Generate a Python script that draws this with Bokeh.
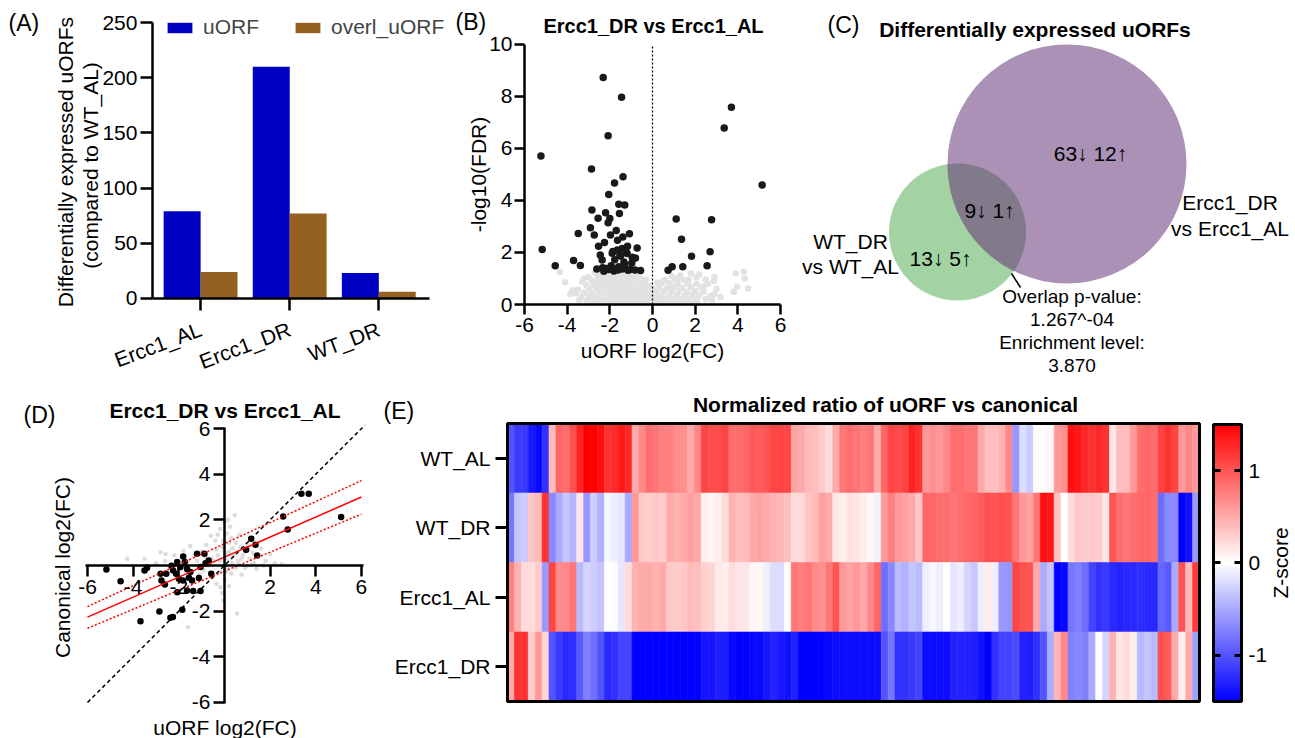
import numpy as np
from bokeh.plotting import figure
from bokeh.models import (Range1d, FixedTicker, Label, Legend, LegendItem,
                          LinearAxis, LinearColorMapper, ColumnDataSource)
from bokeh.transform import dodge
from bokeh.layouts import row, column
from bokeh.embed import file_html
from bokeh.resources import INLINE

FONT = "Liberation Sans"

# ---------------- data ----------------
# (A)
samples = ["Ercc1_AL", "Ercc1_DR", "WT_DR"]
uorf_counts = [79, 210, 23]
overl_counts = [24, 77, 6]
a_yticks = [0, 50, 100, 150, 200, 250]

# (B) volcano: significant (black) and non-significant (grey)
b_sig_x = [-2.31, -1.45, -2.08, -5.23, -2.86, -1.38, -1.78, -2.05, -1.58, -1.30, -2.84, -2.20, -1.55,
           -2.55, -2.00, -2.08, -2.91, -3.48, -2.73, -1.70, -1.97, -1.39, -1.08, -1.64, -2.25, -2.53,
           -1.17, -5.17, -1.42, -0.72, -1.86, -1.50, -1.19, -3.70, -2.36, -1.77, -0.80, -4.56, -3.38,
           -1.94, -1.30, -0.97, -2.61, -2.34, -2.06, -1.70, -1.42, -1.03, -0.56, -2.28, -1.81, -1.34,
           -1.58, -1.89, -1.53, -0.95, -1.34, -2.20, -1.85, -1.62, -1.15, -0.82, -2.45, -1.65, -1.25,
           1.11, 3.36, 3.70, 5.14, 2.77, 1.36, 2.70, 1.83, 0.73, 0.92, 1.42, 2.56]
b_sig_y = [8.73, 7.97, 6.49, 5.71, 5.21, 4.91, 4.67, 4.23, 3.86, 3.83, 3.63, 3.53, 3.50,
           3.32, 3.31, 3.14, 2.95, 2.73, 2.67, 2.85, 2.67, 2.60, 2.72, 2.47, 2.38, 2.24,
           2.24, 2.12, 2.15, 2.17, 2.04, 1.87, 1.96, 1.69, 1.71, 1.72, 1.79, 1.49, 1.50,
           1.49, 1.54, 1.60, 1.37, 1.41, 1.35, 1.37, 1.37, 1.35, 1.31, 1.28, 1.29, 1.42,
           1.45, 1.97, 1.88, 1.82, 1.63, 1.38, 1.36, 1.33, 1.32, 1.33, 1.90, 2.10, 2.05,
           3.29, 6.79, 7.59, 4.60, 3.26, 2.51, 2.03, 1.86, 1.32, 1.45, 1.45, 1.49]
b_ns_x = [-2.7, -2.4, -2.1, -1.85, -1.55, -1.25, -0.95, -0.7,
          -3.0, -2.55, -2.25, -1.95, -1.7, -1.4, -1.1, -0.85, -0.55,
          -3.3, -2.85, -2.6, -2.35, -2.05, -1.8, -1.55, -1.3, -1.0, -0.75, -0.45,
          -3.1, -2.75, -2.45, -2.2, -1.9, -1.65, -1.4, -1.15, -0.9, -0.6, -0.35,
          -3.5, -2.95, -2.6, -2.3, -2.0, -1.75, -1.5, -1.25, -1.0, -0.7, -0.45, -0.25,
          -3.6, -3.2, -2.85, -2.5, -2.15, -1.9, -1.6, -1.35, -1.1, -0.85, -0.55, -0.3,
          -3.35, -3.0, -2.7, -2.4, -2.05, -1.75, -1.5, -1.2, -0.95, -0.65, -0.4, -0.2,
          -3.1, -2.8, -2.5, -2.2, -1.9, -1.6, -1.3, -1.05, -0.8, -0.5, -0.25,
          -2.6, -2.0, -1.4, -0.9, -0.4, -0.12,
          -4.35, -4.1, -3.85,
          -2.55, -2.25, -1.7, -1.1, -0.8, -3.2, -0.3, -0.15, -3.75, -3.45, -0.08, -0.05,
          -2.9, -2.3, -1.7, -1.15, -0.65,
          0.9, 1.3, 1.8, 2.2, 2.9,
          0.6, 1.05, 1.5, 2.5,
          0.4, 0.8, 1.2, 1.65, 2.05, 2.6,
          0.3, 0.7, 1.0, 1.4, 1.8, 2.3,
          0.2, 0.55, 0.9, 1.25, 1.6, 2.0, 2.4,
          0.15, 0.45, 0.8, 1.15, 1.5, 1.85, 2.2, 2.7,
          0.1, 0.35, 0.65, 1.0, 1.35, 1.7, 2.05, 2.8,
          0.2, 0.6, 1.1, 1.6, 2.1,
          0.12, 0.08, 0.5, 1.2, 1.7, 2.05, 0.25, 2.4, 2.5, 2.9, 3.0, 0.4, 0.9, 1.35, 1.85,
          3.9, 4.28, 4.33, 3.97, 4.48, 3.81, 3.19, 2.88]
b_ns_y = [1.22, 1.18, 1.24, 1.2, 1.23, 1.19, 1.21, 1.17,
          1.06, 1.04, 1.08, 1.03, 1.07, 1.05, 1.02, 1.06, 1.0,
          0.88, 0.92, 0.89, 0.93, 0.9, 0.87, 0.91, 0.9, 0.88, 0.92, 0.86,
          0.74, 0.77, 0.73, 0.76, 0.74, 0.78, 0.72, 0.76, 0.74, 0.73, 0.7,
          0.58, 0.61, 0.6, 0.57, 0.62, 0.59, 0.6, 0.58, 0.61, 0.59, 0.57, 0.55,
          0.44, 0.46, 0.43, 0.47, 0.45, 0.42, 0.46, 0.44, 0.47, 0.43, 0.45, 0.41,
          0.29, 0.31, 0.28, 0.32, 0.3, 0.27, 0.31, 0.29, 0.32, 0.28, 0.3, 0.27,
          0.14, 0.16, 0.13, 0.15, 0.17, 0.14, 0.16, 0.13, 0.15, 0.14, 0.12,
          0.08, 0.09, 0.08, 0.09, 0.08, 0.08,
          1.25, 0.86, 0.4,
          1.28, 1.27, 1.28, 1.27, 1.26, 1.0, 0.95, 0.7, 0.55, 0.15, 0.45, 0.2,
          0.07, 0.06, 0.07, 0.08, 0.07,
          1.1, 1.12, 1.19, 1.15, 1.06,
          0.95, 0.97, 0.93, 0.96,
          0.8, 0.82, 0.78, 0.81, 0.8, 0.8,
          0.66, 0.64, 0.67, 0.63, 0.66, 0.65,
          0.5, 0.52, 0.49, 0.51, 0.48, 0.52, 0.5,
          0.35, 0.37, 0.34, 0.36, 0.33, 0.37, 0.35, 0.32,
          0.2, 0.22, 0.19, 0.21, 0.2, 0.18, 0.22, 0.17,
          0.09, 0.08, 0.09, 0.08, 0.09,
          0.6, 0.45, 0.9, 1.0, 0.95, 1.05, 0.85, 0.7, 0.2, 0.4, 0.6, 0.07, 0.07, 0.08, 0.07,
          1.19, 1.26, 1.0, 0.68, 0.62, 0.49, 0.29, 0.9]
b_xticks = [-6, -4, -2, 0, 2, 4, 6]
b_yticks = [0, 2, 4, 6, 8, 10]

# (C) Venn counts (down, up)
venn_ercc1_only = (63, 12)
venn_overlap = (9, 1)
venn_wt_only = (13, 5)
venn_sets = ["Ercc1_DR", "vs Ercc1_AL", "WT_DR", "vs WT_AL"]
venn_stats = ["Overlap p-value:", "1.267^-04", "Enrichment level:", "3.870"]

# (D) uORF vs canonical log2FC
d_sig_x = [-5.17, -4.55, -3.68, -3.5, -3.39, -2.85, -2.76, -2.61, -2.80, -2.55, -2.37, -2.26, -1.85,
           -2.32, -2.25, -2.12, -2.07, -1.81, -1.74, -1.93, -2.0, -1.82, -1.56, -1.42, -2.07, -1.64,
           -1.37, -1.05, -1.2, -0.88, -0.83, -0.69, -1.05, -0.58, -1.12, -1.49, -1.64,
           0.95, 1.17, 1.36, 1.43, 2.57, 2.77, 3.37, 3.69, 5.11]
d_sig_y = [-0.18, -0.69, -2.44, -0.22, -0.1, -2.01, -0.66, -0.83, -0.36, -0.36, -2.29, -2.26, -1.94,
           -0.01, -0.22, -0.36, 0.15, 0.39, 0.15, -0.07, -0.58, -0.66, -0.54, -0.66, -1.17, -1.09,
           -1.12, -1.12, 0.51, 0.51, 0.10, 0.22, -0.07, -0.36, -0.55, -0.29, -0.15,
           0.69, 1.17, 0.91, 0.44, 2.15, 1.58, 3.14, 3.14, 2.12]
d_ns_x = [-3.0, -2.8, -2.58, -2.4, -2.2, -2.0, -1.8, -1.7, -1.5, -1.4, -1.2, -1.1, -1.0, -0.9, -0.8,
          -0.7, -0.6, -0.55, -0.5, -0.4, -0.3, -0.2, -0.2, -0.1, -0.1, 0.0, 0.0, 0.05, 0.1, 0.15,
          0.2, 0.2, 0.3, 0.3, 0.35, 0.4, 0.45, 0.5, 0.5, 0.6, 0.7, 0.75, 0.8, 0.9, 1.0, 1.05, 1.1,
          1.25, 1.3, 1.5, 1.6, 1.8, 2.0, -0.18, -0.04, 0.55, -1.6, -4.26, -3.5, 0.25, -0.35, 0.65,
          0.6, 0.9, 1.2, 1.4, 1.7, 2.2, 2.5, -0.2, 0.1, 0.2, -0.3, 0.05, -0.5, 0.35, 0.55, 0.75,
          -0.8, -1.3, -1.6, -0.05, 0.15, -2.6, -0.35]
d_ns_y = [0.1, 0.58, 0.5, -0.1, 0.45, 0.1, 0.65, -0.3, 0.85, -0.6, 0.2, -0.4, 0.6, -0.2, 0.9,
          0.0, 1.3, 0.3, 0.2, 1.1, 0.45, 1.6, -0.3, 0.8, -1.2, 1.9, -0.6, 0.3, 1.4, -0.15,
          0.6, -0.9, 1.2, -0.35, 0.1, 0.4, 2.2, 1.0, -0.1, 0.2, 0.8, -0.4, 0.45, 0.6, 0.0, 0.9, 0.3,
          0.55, 0.1, 0.4, 0.75, 0.2, 0.5, -0.95, -1.53, -2.1, -2.7, 0.3, 0.3, 1.7, 0.7, 1.35,
          0.05, -0.1, 0.05, -0.15, 0.0, 0.1, 0.05, 0.2, 0.55, 1.0, 1.35, -0.3, -0.5, 0.75, 0.55, 0.3,
          0.35, 0.45, 0.2, 1.1, 2.0, 0.2, -0.8]
d_fit_x = [-6, 6]
d_fit_y = [-2.26, 3.0]
d_ci_upper = [-1.8, 3.72]
d_ci_lower = [-2.75, 2.25]
d_identity = [-6, 6.15]
d_ticks = [-6, -4, -2, 2, 4, 6]

# (E) heatmap z-scores, 100 uORFs x 4 conditions
conditions = ["WT_AL", "WT_DR", "Ercc1_AL", "Ercc1_DR"]
z_wt_al = [-1.0, -1.15, -1.15, -1.35, -1.45, -1.2, 0.4, 0.9, 0.85, 1.03, 1.3, 1.5, 1.5, 1.4, 1.2, 1.25,
           1.35, 1.26, 0.5, 0.7, 0.85, 0.8, 0.74, 0.74, 0.68, 0.65, 0.5, 0.7, 1.1, 1.05, 1.05, 1.1, 0.85,
           0.85, 0.9, 0.97, 0.95, 1.0, 1.09, 1.1, 1.09, 0.55, 0.5, 0.4, 0.38, 0.3, 0.2, 0.5, 0.8, 0.85,
           0.8, 0.75, 0.8, 0.5, 0.9, 1.09, 1.05, 1.1, 1.3, 1.2, 0.6, 0.65, 0.6, 0.7, 0.85, 0.85, 0.8,
           0.8, 0.5, 0.38, 0.38, 0.45, 0.68, -0.6, -0.2, -0.3, 0.02, 0.02, 0.05, 0.6, 0.65, 1.4, 1.35,
           1.26, 1.2, 1.26, 1.2, 0.15, 0.38, 0.4, 0.6, 0.85, 0.9, 0.85, 1.09, 1.2, 1.1, 0.6, 0.7, 0.6]
z_wt_dr = [-0.8, -0.35, -0.3, 0.35, 0.4, 1.2, -0.7, -0.5, -0.35, -0.44, 0.15, -0.6, -0.3, -0.45, -0.05,
           -0.1, -0.15, -0.5, 0.6, 0.32, 0.3, 0.32, 0.3, 0.5, 0.45, 0.5, 0.56, 0.5, 0.1, 0.05, 0.1, 0.2,
           0.44, 0.38, 0.4, 0.5, 0.55, 0.5, 0.45, 0.42, 0.38, 0.2, 0.22, 0.35, 0.4, 0.56, 0.5, 0.15, 0.1,
           0.17, 0.15, 0.1, 0.05, -0.08, 0.6, 0.75, 0.6, 0.56, 0.5, 0.32, 0.9, 0.9, 0.85, 0.85, 0.8,
           0.85, 0.9, 0.91, 0.95, 1.03, 1.0, 1.05, 1.0, 0.8, 0.6, 0.55, 0.8, 1.4, 1.35, 0.35, 0.0, 0.2,
           0.32, 0.3, 0.32, 0.3, 0.15, 1.0, 0.85, 0.8, 0.85, 0.9, 0.9, 0.85, -0.85, -0.68, -0.7, -1.5,
           -1.4, -0.6]
z_ercc1_al = [0.73, 0.45, 0.2, 0.2, 0.3, -0.6, 1.1, 0.68, 0.7, 0.8, -0.4, -0.25, -0.3, -0.35, 0.0,
              -0.02, -0.15, 0.2, 0.45, 0.5, 0.5, 0.45, 0.5, 0.32, 0.3, 0.32, 0.4, 0.38, 0.27, 0.25, 0.12,
              0.1, 0.2, 0.15, 0.15, 0.05, 0.05, -0.1, -0.2, -0.2, 0.0, 0.8, 0.75, 0.8, 0.68, 0.65, 0.8,
              1.0, 0.6, 0.55, 0.6, 0.5, 0.7, 0.9, -0.85, -0.7, -0.4, -0.45, -0.35, -0.4, -0.1, -0.05,
              -0.1, 0.0, -0.15, -0.1, -0.25, -0.32, -0.1, 0.1, -0.1, -0.6, -0.62, 1.1, 1.03, 1.0, 0.5,
              -0.5, -0.35, -1.5, -1.45, -0.8, -0.75, -0.85, -1.1, -1.2, -1.15, -1.25, -1.3, -1.26,
              -1.26, -1.22, -1.26, -1.26, -0.9, -0.97, -0.5, 1.0, 0.4, 1.15]
z_ercc1_dr = [0.5, 1.2, 1.2, 0.3, 0.6, 0.25, -1.0, -1.15, -1.26, -1.22, -0.97, -0.75, -0.85, -1.0,
              -1.26, -1.2, -1.1, -1.1, -1.5, -1.5, -1.5, -1.5, -1.5, -1.5, -1.5, -1.5, -1.5, -1.5,
              -1.38, -1.38, -1.32, -1.32, -1.45, -1.5, -1.5, -1.45, -1.45, -1.35, -1.3, -1.35, -1.4,
              -1.3, -1.5, -1.5, -1.5, -1.5, -1.45, -1.42, -1.42, -1.42, -1.42, -1.42, -1.42, -1.42,
              -1.0, -0.8, -1.2, -1.2, -1.15, -1.1, -1.42, -1.42, -1.42, -1.42, -1.3, -1.3, -1.3,
              -1.32, -1.4, -1.5, -1.2, -1.1, -1.1, -1.05, -1.3, -1.32, -1.2, -1.0, -0.5, 0.44, 0.7,
              -0.73, -0.7, -0.75, -0.5, 0.0, -0.25, 0.44, 0.15, 0.2, 0.1, -0.4, -0.35, -0.4, 1.03,
              0.95, 0.5, 0.1, 0.5, -0.56]
z_ticks = [-1, 0, 1]
z_low, z_high = -1.5, 1.5

# ---------------- styles ----------------
BLUE = "#0000C2"
BROWN = "#956120"
PURPLE = "#AA91B5"
GREEN = "#A3D2A3"
OVERLAP = "#807A8A"
GREY = "#E2E2E2"


def make_palette():
    pal = []
    for i in range(256):
        t = i / 255.0
        if t < 0.5:
            f = t / 0.5
            r, g, b = int(round(255 * f)), int(round(255 * f)), 255
        else:
            f = (t - 0.5) / 0.5
            r, g, b = 255, int(round(255 * (1 - f))), int(round(255 * (1 - f)))
        pal.append("#%02X%02X%02X" % (r, g, b))
    return pal


PALETTE = make_palette()


def canvas_fig(w, h, xr, yr):
    p = figure(width=w, height=h, x_range=Range1d(*xr), y_range=Range1d(*yr),
               x_axis_type=None, y_axis_type=None, output_backend="svg", toolbar_location=None,
               min_border=0, min_border_left=0, min_border_right=0, min_border_top=0,
               min_border_bottom=0)
    p.outline_line_color = None
    p.background_fill_color = "white"
    p.border_fill_color = "white"
    return p


def add_axis(p, side, loc, bounds, ticks, labels=None, tick_out=11, tick_in=0, size="21px",
             standoff=3, width=2.5, orientation=None):
    ax = LinearAxis(fixed_location=loc, bounds=bounds, ticker=FixedTicker(ticks=ticks))
    ax.axis_line_width = width
    ax.axis_line_color = "black"
    ax.major_tick_line_width = width
    ax.major_tick_line_color = "black"
    ax.minor_tick_line_color = None
    ax.major_tick_in = tick_in
    ax.major_tick_out = tick_out
    ax.major_label_text_font = FONT
    ax.major_label_text_font_size = size
    ax.major_label_text_color = "black"
    ax.major_label_standoff = standoff
    if labels is None:
        labels = [str(t) for t in ticks]
    ax.major_label_overrides = {t: s for t, s in zip(ticks, labels)}
    if orientation is not None:
        ax.major_label_orientation = orientation
    p.add_layout(ax, side)
    return ax


def lab(p, x, y, text, size="21px", bold=False, align="left", angle=0.0):
    p.add_layout(Label(x=x, y=y, text=text, text_font=FONT, text_font_size=size,
                       text_font_style="bold" if bold else "normal", text_align=align,
                       text_baseline="middle", angle=angle, text_color="black"))


# ---------------- (A) ----------------
pA = canvas_fig(450, 380, (-2.246, 2.805), (-74.28, 269.93))
srcA = ColumnDataSource(dict(idx=list(range(len(samples))), uorf=uorf_counts, overl=overl_counts))
r1 = pA.vbar(x=dodge("idx", -0.207, range=pA.x_range), top="uorf", width=0.415, source=srcA,
             fill_color=BLUE, line_color=None)
r2 = pA.vbar(x=dodge("idx", 0.207, range=pA.x_range), top="overl", width=0.415, source=srcA,
             fill_color=BROWN, line_color=None)
add_axis(pA, "below", 0, (-0.54, 2.57), list(range(len(samples))), labels=samples,
         tick_out=12, standoff=18, orientation=0.36)
add_axis(pA, "left", -0.54, (0, 250), a_yticks, tick_out=12, standoff=3)
legA = Legend(items=[LegendItem(label="uORF", renderers=[r1]),
                     LegendItem(label="overl_uORF", renderers=[r2])],
              orientation="horizontal", location=(164, 341), glyph_width=31, glyph_height=13,
              label_standoff=8, spacing=33, padding=0, margin=0, border_line_color=None,
              background_fill_alpha=0, label_text_font=FONT, label_text_font_size="21px",
              label_height=13)
pA.add_layout(legA)
lab(pA, -2.156, 250, "(A)", size="23px")
lab(pA, -1.516, 123.6, "Differentially expressed uORFs", align="center", angle=np.pi / 2)
lab(pA, -1.236, 120.5, "(compared to WT_AL)", align="center", angle=np.pi / 2)

# ---------------- (B) ----------------
pB = canvas_fig(350, 380, (-9.469, 6.938), (-2.923, 11.692))
pB.scatter(b_ns_x, b_ns_y, size=6.5, fill_color=GREY, line_color=None)
pB.scatter(b_sig_x, b_sig_y, size=7.5, fill_color="#1A1A1A", line_color=None)
pB.line([0, 0], [b_yticks[0], b_yticks[-1]], line_color="black", line_width=1.3, line_dash="2 2")
add_axis(pB, "below", 0, (-6, 6), b_xticks, tick_out=10, standoff=3)
add_axis(pB, "left", -6, (0, 10), b_yticks, tick_out=10, standoff=2)
lab(pB, -9.234, 10.846, "(B)", size="23px")
lab(pB, 0.047, 10.73, "Ercc1_DR vs Ercc1_AL", size="20px", bold=True, align="center")
lab(pB, 0.0, -1.77, "uORF log2(FC)", align="center")
lab(pB, -8.156, 5.0, "-log10(FDR)", align="center", angle=np.pi / 2)

# ---------------- (C) Venn ----------------
pC = canvas_fig(495, 380, (800, 1295), (380, 0))
big_c, big_r = (1066.5, 163.5), 119.5
small_c, small_r = (957.0, 231.5), 68.5
pC.circle(x=[small_c[0]], y=[small_c[1]], radius=small_r, fill_color=GREEN, line_color=None)
pC.circle(x=[big_c[0]], y=[big_c[1]], radius=big_r, fill_color=PURPLE, line_color=None)


def lens(c1, r1_, c2, r2_, n=80):
    d = np.hypot(c2[0] - c1[0], c2[1] - c1[1])
    th = np.arctan2(c2[1] - c1[1], c2[0] - c1[0])
    a1 = np.arccos((d * d + r1_ * r1_ - r2_ * r2_) / (2 * d * r1_))
    a2 = np.arccos((d * d + r2_ * r2_ - r1_ * r1_) / (2 * d * r2_))
    t1 = np.linspace(th - a1, th + a1, n)
    t2 = np.linspace(th + np.pi - a2, th + np.pi + a2, n)
    xs = np.concatenate([c1[0] + r1_ * np.cos(t1), c2[0] + r2_ * np.cos(t2)])
    ys = np.concatenate([c1[1] + r1_ * np.sin(t1), c2[1] + r2_ * np.sin(t2)])
    return xs, ys


lx, ly = lens(small_c, small_r, big_c, big_r)
pC.patch(lx, ly, fill_color=OVERLAP, line_color=None)
pC.line([1011, 1020], [273, 287], line_color="black", line_width=1.5)


def updown(t):
    return "%d\u2193 %d\u2191" % t


lab(pC, 827, 24, "(C)", size="23px")
lab(pC, 1034.5, 29, "Differentially expressed uORFs", size="21px", bold=True, align="center")
lab(pC, 1090, 153, updown(venn_ercc1_only), align="center")
lab(pC, 989, 210, updown(venn_overlap), align="center")
lab(pC, 940, 258, updown(venn_wt_only), align="center")
lab(pC, 1229.5, 202, venn_sets[0], align="center")
lab(pC, 1229.5, 228, venn_sets[1], align="center")
lab(pC, 850, 241, venn_sets[2], align="center")
lab(pC, 850, 266, venn_sets[3], align="center")
for i, s in enumerate(venn_stats):
    lab(pC, 1071.5, 296 + 23 * i, s, size="19px", align="center")

# ---------------- (D) ----------------
pD = canvas_fig(380, 358, (-9.811, 6.834), (-7.578, 8.103))
pD.scatter(d_ns_x, d_ns_y, size=4.5, fill_color="#DCDCDC", line_color=None)
pD.scatter(d_sig_x, d_sig_y, size=6.5, fill_color="black", line_color=None)
pD.line(d_identity, d_identity, line_color="black", line_width=1.5, line_dash="4 3")
pD.line(d_fit_x, d_ci_upper, line_color="red", line_width=1.5, line_dash="2 2")
pD.line(d_fit_x, d_ci_lower, line_color="red", line_width=1.5, line_dash="2 2")
pD.line(d_fit_x, d_fit_y, line_color="red", line_width=1.5)
add_axis(pD, "below", 0, (-6.09, 6.09), d_ticks, tick_out=11, standoff=4)
add_axis(pD, "left", 0, (-6.05, 6.05), d_ticks, tick_out=11, standoff=3)
lab(pD, -8.803, 6.57, "(D)", size="23px")
lab(pD, 0.023, 6.79, "Ercc1_DR vs Ercc1_AL", size="21px", bold=True, align="center")
lab(pD, 0.023, -7.1, "uORF log2(FC)", align="center")
lab(pD, -7.095, -0.09, "Canonical log2(FC)", align="center", angle=np.pi / 2)

# ---------------- (E) heatmap ----------------
mapper = LinearColorMapper(palette=PALETTE, low=z_low, high=z_high)
row_pos = [3, 2, 1, 0]
cols, rows_, zs = [], [], []
for ri, vals in zip(row_pos, [z_wt_al, z_wt_dr, z_ercc1_al, z_ercc1_dr]):
    for ci, v in enumerate(vals):
        cols.append(ci)
        rows_.append(ri)
        zs.append(v)
srcE = ColumnDataSource(dict(col=cols, row=rows_, z=zs))
ncol = len(z_wt_al)
nrow = len(conditions)
pE = canvas_fig(824, 358, (-18.853, 100.223), (-1.032, 4.119))
pE.rect(x="col", y="row", width=1, height=1, source=srcE,
        fill_color={"field": "z", "transform": mapper},
        line_color={"field": "z", "transform": mapper}, line_width=0.6)
pE.rect(x=[(ncol - 1) / 2], y=[(nrow - 1) / 2], width=ncol, height=nrow, fill_color=None,
        line_color="black", line_width=3)
add_axis(pE, "left", -0.5, (-0.5, nrow - 0.5), row_pos, labels=conditions, tick_out=12,
         standoff=5, width=3)
lab(pE, -18.42, 3.687, "(E)", size="23px")
lab(pE, 54.12, 3.774, "Normalized ratio of uORF vs canonical", size="21px", bold=True, align="center")

# colour bar
pCB = canvas_fig(91, 358, (-0.3214, 2.9286), (-1.9008, 1.9766))
grad = np.linspace(z_low, z_high, 256).reshape(256, 1)
pCB.image(image=[grad], x=0, y=z_low, dw=1, dh=z_high - z_low, color_mapper=mapper)
pCB.rect(x=[0.5], y=[0], width=1, height=z_high - z_low, fill_color=None, line_color="black",
         line_width=3)
add_axis(pCB, "right", 1, (z_low, z_high), z_ticks, tick_out=0, tick_in=7, standoff=7, width=3)
add_axis(pCB, "left", 0, (z_low, z_high), z_ticks, labels=["", "", ""], tick_out=0, tick_in=7,
         standoff=0, width=3, size="1px")
lab(pCB, 2.393, 0.0, "Z-score", align="center", angle=np.pi / 2)

layout = column(row(pA, pB, pC), row(pD, pE, pCB))
open("out.html", "w").write(file_html(layout, INLINE))
